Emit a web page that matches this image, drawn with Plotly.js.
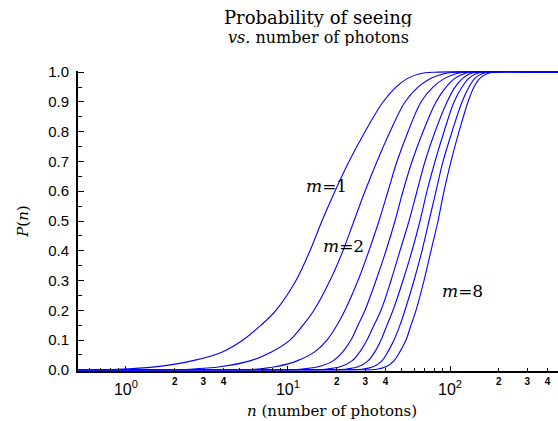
<!DOCTYPE html>
<html>
<head>
<meta charset="utf-8">
<script src="https://cdn.plot.ly/plotly-3.0.1.min.js"></script>
<style>html,body{margin:0;padding:0;background:#fff}#chart{width:558px;height:421px}</style>
</head>
<body>
<div id="chart"></div>
<script>
// probability levels shared by the readings of curves m=2..8
const pLevels = [0, 0, 0.002, 0.01, 0.03, 0.061, 0.1, 0.15, 0.2, 0.3, 0.4, 0.5, 0.6, 0.7, 0.8, 0.9, 0.95, 0.98, 0.995, 1.0, 1.0];

// photon counts n, one array per threshold m
const n_m1 = [0.5, 0.892, 1.510, 2.555, 3.970, 5.275, 6.813, 8.432, 11.21, 13.67, 16.21, 19.50, 23.80, 29.88, 38.59, 46.42, 55.06, 65.29, 80.80, 500];
const p_m1 = [0.0005, 0.002, 0.01, 0.03, 0.061, 0.1, 0.15, 0.2, 0.3, 0.4, 0.5, 0.6, 0.7, 0.8, 0.9, 0.95, 0.98, 0.995, 1.0, 1.0];
const n_m2 = [0.5, 1.622, 2.484, 3.804, 5.826, 7.965, 10.29, 12.38, 14.47, 18.17, 21.85, 25.55, 29.88, 35.43, 42.64, 52.75, 63.46, 76.33, 91.83, 108.9, 500];
const n_m3 = [0.5, 4.084, 6.256, 8.313, 11.366, 14.68, 17.41, 20.07, 22.48, 27.05, 31.62, 36.45, 41.43, 47.08, 55.06, 66.22, 78.55, 93.14, 108.9, 125.6, 500];
const n_m4 = [0.5, 7.743, 11.86, 15.32, 18.96, 21.85, 24.48, 27.05, 29.88, 34.93, 40.26, 45.76, 51.27, 58.28, 68.13, 81.96, 94.47, 107.4, 122.0, 136.7, 500];
const n_m5 = [0.5, 11.05, 16.92, 20.94, 24.84, 27.83, 30.74, 33.95, 37.51, 43.25, 49.13, 55.85, 62.56, 70.10, 80.80, 95.83, 107.4, 120.3, 132.9, 148.9, 500];
const n_m6 = [0.5, 14.68, 22.48, 27.05, 31.18, 34.44, 37.51, 40.84, 44.49, 51.27, 58.28, 65.29, 72.11, 80.80, 91.83, 105.9, 118.6, 131.0, 144.7, 162.2, 500];
const n_m7 = [0.5, 18.69, 28.63, 33.47, 38.04, 41.43, 45.12, 49.13, 52.75, 59.95, 67.17, 74.19, 81.96, 90.54, 102.9, 118.6, 131.0, 142.7, 157.6, 176.6, 500];
const n_m8 = [0.5, 23.13, 35.43, 40.26, 45.12, 49.13, 53.51, 57.45, 61.68, 69.11, 76.33, 84.32, 91.83, 101.4, 113.6, 129.1, 140.6, 153.2, 169.2, 189.6, 500];
// short black stroke near the top right
const n_black = [505, 525, 545, 600];
const p_black = [1.0, 0.996, 0.995, 0.996];

// tick values and labels
const yTickVals = [0, 0.1, 0.2, 0.3, 0.4, 0.5, 0.6, 0.7, 0.8, 0.9, 1.0];
const yTickText = ['0.0', '0.1', '0.2', '0.3', '0.4', '0.5', '0.6', '0.7', '0.8', '0.9', '1.0'];
const yMinorVals = [0.05, 0.15, 0.25, 0.35, 0.45, 0.55, 0.65, 0.75, 0.85, 0.95];
const xMajorVals = [1, 10, 100];
const xMajorText = ['10<sup>0</sup>', '10<sup>1</sup>', '10<sup>2</sup>'];
const xMinorVals = [0.6, 0.7, 0.8, 0.9, 2, 3, 4, 5, 6, 7, 8, 9, 20, 30, 40, 50, 60, 70, 80, 90, 200, 300, 400];
const xMinorText = ['', '', '', '', '2', '3', '4', '', '', '', '', '', '2', '3', '4', '', '', '', '', '', '2', '3', '4'];

// curve labels: text, log10(n), P
const labelText = ['<i>m</i>=1', '<i>m</i>=2', '<i>m</i>=8'];
const labelLogN = [1.235, 1.34, 2.08];
const labelP = [0.618, 0.415, 0.265];

const series = [[n_m1, p_m1], [n_m2, pLevels], [n_m3, pLevels], [n_m4, pLevels], [n_m5, pLevels], [n_m6, pLevels], [n_m7, pLevels], [n_m8, pLevels]];
const traces = series.map((s, i) => ({
  x: s[0], y: s[1], type: 'scatter', mode: 'lines', name: 'm=' + (i + 1),
  line: {color: '#0000ff', width: 1.1, shape: 'spline', smoothing: 1},
  hoverinfo: 'skip'
}));
traces.push({x: n_black, y: p_black, type: 'scatter', mode: 'lines', line: {color: '#000', width: 1.3, shape: 'spline'}, hoverinfo: 'skip'});
traces.push({x: [1], y: [null], xaxis: 'x2', type: 'scatter', mode: 'lines', hoverinfo: 'skip'});

const xr = [Math.log10(0.506), Math.log10(464)];
const serif = 'DejaVu Serif, serif';
const sans = 'Liberation Sans, Arial, sans-serif';

const textAnn = [
  {text: 'Probability of seeing', x: 0.5, y: 1.177, size: 18, h: 19},
  {text: '<i>vs.</i> number of photons', x: 0.5, y: 1.113, size: 16, h: 18},
  {text: '<i>n</i> (number of photons)', x: 0.529, y: -0.133, size: 15, h: 18}
];

const layout = {
  width: 558, height: 421,
  margin: {l: 78, r: 0, t: 71, b: 50, pad: 0},
  paper_bgcolor: '#fff', plot_bgcolor: '#fff',
  showlegend: false,
  xaxis: {
    type: 'log', range: xr, showgrid: false, zeroline: false,
    showline: true, linecolor: '#000', linewidth: 2, layer: 'below traces',
    ticks: 'inside', ticklen: 5, tickwidth: 1, tickcolor: '#000',
    tickmode: 'array', tickvals: xMajorVals, ticktext: xMajorText,
    tickfont: {family: sans, size: 16, color: '#000'},
    ticklabelstandoff: 3
  },
  xaxis2: {
    type: 'log', range: xr, overlaying: 'x', anchor: 'y', side: 'bottom',
    showgrid: false, zeroline: false, showline: false,
    ticks: 'inside', ticklen: 3, tickwidth: 1, tickcolor: '#000',
    tickmode: 'array', tickvals: xMinorVals, ticktext: xMinorText,
    tickfont: {family: sans, size: 10, color: '#000', weight: 'bold'},
    ticklabelstandoff: 3
  },
  yaxis: {
    range: [-0.004, 1.004], showgrid: false, zeroline: false,
    showline: true, linecolor: '#000', linewidth: 2, layer: 'below traces',
    ticks: 'inside', ticklen: 6, tickwidth: 1, tickcolor: '#000',
    tickmode: 'array', tickvals: yTickVals, ticktext: yTickText,
    tickfont: {family: sans, size: 15, color: '#000'},
    ticklabelstandoff: 4,
    minor: {tickmode: 'array', tickvals: yMinorVals, ticks: 'inside', ticklen: 4, tickwidth: 1, tickcolor: '#000', showgrid: false},
    title: {text: '<i>P</i>(<i>n</i>)', font: {family: serif, size: 15, color: '#000'}, standoff: 16}
  },
  annotations: labelText.map((t, i) => ({
    x: labelLogN[i], y: labelP[i], xref: 'x', yref: 'y', text: t, showarrow: false,
    font: {family: serif, size: 17, color: '#000'}, xanchor: 'center', yanchor: 'middle'
  })).concat(textAnn.map(a => ({
    x: a.x, y: a.y, xref: 'paper', yref: 'paper', text: a.text, showarrow: false,
    height: a.h, valign: 'middle', borderpad: 0,
    font: {family: serif, size: a.size, color: '#000'}, xanchor: 'center', yanchor: 'middle'
  })))
};

Plotly.newPlot('chart', traces, layout, {displayModeBar: false, staticPlot: true});
</script>
</body>
</html>
